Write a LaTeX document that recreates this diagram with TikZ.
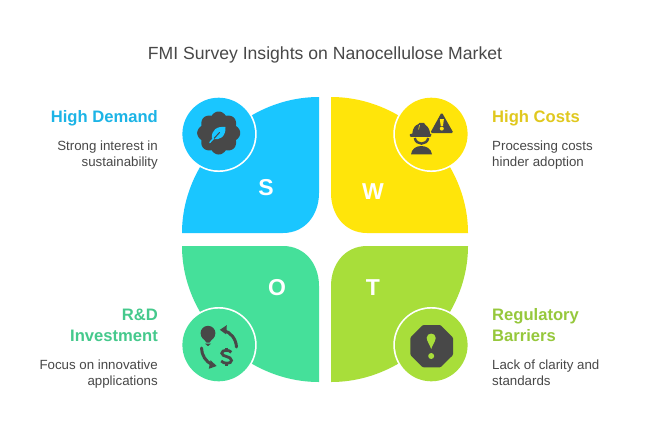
\documentclass[tikz,border=0pt]{standalone}
\usepackage{fontspec}
\setmainfont{Liberation Sans}
\definecolor{sblue}{HTML}{1AC6FF}
\definecolor{wyel}{HTML}{FFE50A}
\definecolor{ogrn}{HTML}{45E09A}
\definecolor{tgrn}{HTML}{A8DE3A}
\definecolor{hblue}{HTML}{1CB4E6}
\definecolor{hyel}{HTML}{E0C81E}
\definecolor{hogrn}{HTML}{45C98C}
\definecolor{htgrn}{HTML}{96C83C}
\definecolor{ink}{HTML}{484848}
\tikzset{
 ttl/.style={font=\fontsize{17.6}{20}\selectfont,text=ink,inner sep=0pt},
 head/.style={font=\fontsize{16.6}{21}\selectfont\bfseries,inner sep=0pt,align=#1},
 body/.style={font=\fontsize{13.3}{16}\selectfont,text=ink,inner sep=0pt,align=#1},
 letter/.style={font=\fontsize{23}{25}\selectfont\bfseries,text=white,inner sep=0pt},
 ring/.style={fill=white,draw=none},
 ico/.style={fill=ink,draw=none},
 icoline/.style={draw=ink,line width=3pt,fill=none}
}
\begin{document}
\begin{tikzpicture}[x=1pt,y=-1pt]
\useasboundingbox (0,0) rectangle (650,437);
\fill[white] (0,0) rectangle (650,437);
\node[ttl] (title) at (325,54.5) {FMI Survey Insights on Nanocellulose Market};
% petals
\fill[sblue] (319,97) -- (319,193) .. controls (319,215) and (305,233) .. (283,233) -- (182,233) .. controls (182,160) and (245,97) .. (319,97) -- cycle;
\fill[wyel] (331,97) -- (331,193) .. controls (331,215) and (345,233) .. (367,233) -- (468,233) .. controls (468,160) and (405,97) .. (331,97) -- cycle;
\fill[ogrn] (319,382) -- (319,286) .. controls (319,264) and (305,246) .. (283,246) -- (182,246) .. controls (182,319) and (245,382) .. (319,382) -- cycle;
\fill[tgrn] (331,382) -- (331,286) .. controls (331,264) and (345,246) .. (367,246) -- (468,246) .. controls (468,319) and (405,382) .. (331,382) -- cycle;
\foreach \cx/\cy/\c in {218.7/134/sblue,431.3/134/wyel,218.7/345/ogrn,431.3/345/tgrn}{
 \fill[ring] (\cx,\cy) circle (38);
 \fill[\c] (\cx,\cy) circle (36.3);
}
\node[letter] (s) at (266,187.5) {S};
\node[letter] (w) at (373,192) {W};
\node[letter] (o) at (277,288) {O};
\node[letter] (t) at (373,288) {T};
% gear with leaf
\fill[ink] plot[samples=145,domain=0:360] ({218.7+(18.6+2.9*abs(cos(4*\x)))*cos(\x)},{133+(18.6+2.9*abs(cos(4*\x)))*sin(\x)}) -- cycle;
\fill[sblue] (225.5,127) .. controls (217,126) and (211,130) .. (212,138.5) .. controls (220,141.5) and (226,136) .. (225.5,127) -- cycle;
\draw[draw=ink,line width=1pt,line cap=round] (219.5,132.5) -- (214,138.5);
\draw[draw=sblue,line width=1.4pt,line cap=round] (213.5,138.5) -- (209.8,142.5);
% worker + warning
\fill[ink] (409.8,134.2) -- (412.3,133.6) .. controls (412.6,128) and (415.5,125) .. (418.5,124) -- (419.5,122.8) -- (424,122.8) -- (425,124.5) .. controls (428,126.5) and (430,130) .. (430,133.6) -- (431.3,134.2) .. controls (431.5,136) and (431,136.8) .. (430,136.8) -- (411,136.8) .. controls (410,136.8) and (409.6,136) .. (409.8,134.2) -- cycle;
\draw[wyel,line width=.6pt] (419.5,125) -- (418.6,129.5);
\draw[draw=ink,line width=2.4pt] (414.8,138) .. controls (416,145.5) and (427,145.5) .. (428.2,138);
\fill[ink] (411,154.4) .. controls (411.5,149) and (416,146) .. (421.3,146) .. controls (426.5,146) and (431.5,149) .. (432,154.4) -- cycle;
\fill[ink,rounded corners=1.5pt] (441.7,112.2) -- (453.5,133) -- (430.2,133) -- cycle;
\fill[wyel] (439.8,119) -- (443.9,119) -- (443,125.8) -- (440.7,125.8) -- cycle;
\fill[wyel] (441.8,128.6) circle (2);
% bulb, arrows, dollar
\fill[ink] (208,333.2) circle (7.4);
\fill[ink] (201.4,336.5) -- (214.6,336.5) -- (209.5,342.5) -- (206.5,342.5) -- cycle;
\fill[ink] (205,343.6) -- (211,343.6) -- (208,346.2) -- cycle;
\draw[icoline,line cap=round] (224,330.5) .. controls (231,332.5) and (236,339) .. (236.5,347);
\fill[ink] (219.8,329.8) -- (226.8,325.2) -- (226.2,334.4) -- cycle;
\draw[icoline,line cap=round] (201.5,348) .. controls (201.5,355) and (206,362) .. (212,364.5);
\fill[ink] (216.6,366) -- (208.8,368.8) -- (210.6,360.2) -- cycle;
\draw[draw=ink,line width=2.8pt] (231.3,352.3) .. controls (229.5,349.5) and (221.8,349.5) .. (221.8,353.2) .. controls (221.8,357.2) and (231.5,355.8) .. (231.5,360.4) .. controls (231.5,364.2) and (223.5,364) .. (221.2,361);
\draw[draw=ink,line width=2.6pt] (226.6,347.6) -- (226.6,350.5) (226.6,363.5) -- (226.6,366.4);
% stop sign
\fill[ink,rounded corners=1pt] (422.9,325) -- (440.5,325) -- (453,337.5) -- (453,355) -- (440.5,367.4) -- (422.9,367.4) -- (410.4,355) -- (410.4,337.5) -- cycle;
\fill[tgrn] (431.2,349) .. controls (430,345) and (426.7,341) .. (426.7,337.8) .. controls (426.7,332.2) and (435.7,332.2) .. (435.7,337.8) .. controls (435.7,341) and (432.4,345) .. (431.2,349) -- cycle;
\fill[tgrn] (431.2,356) circle (3);
% texts
\node[head=right,text=hblue,anchor=east] (h1) at (158,118.3) {High Demand};
\node[body=right,anchor=north east] (b1) at (158,140.3) {Strong interest in\\sustainability};
\node[head=left,text=hyel,anchor=west] (h2) at (492,118.3) {High Costs};
\node[body=left,anchor=north west] (b2) at (492,140.3) {Processing costs\\hinder adoption};
\node[head=right,text=hogrn,anchor=north east] (h3) at (158,308.5) {R\&D\\Investment};
\node[body=right,anchor=north east] (b3) at (158,359.3) {Focus on innovative\\applications};
\node[head=left,text=htgrn,anchor=north west] (h4) at (492,308.5) {Regulatory\\Barriers};
\node[body=left,anchor=north west] (b4) at (492,359.3) {Lack of clarity and\\standards};
\end{tikzpicture}
\end{document}
